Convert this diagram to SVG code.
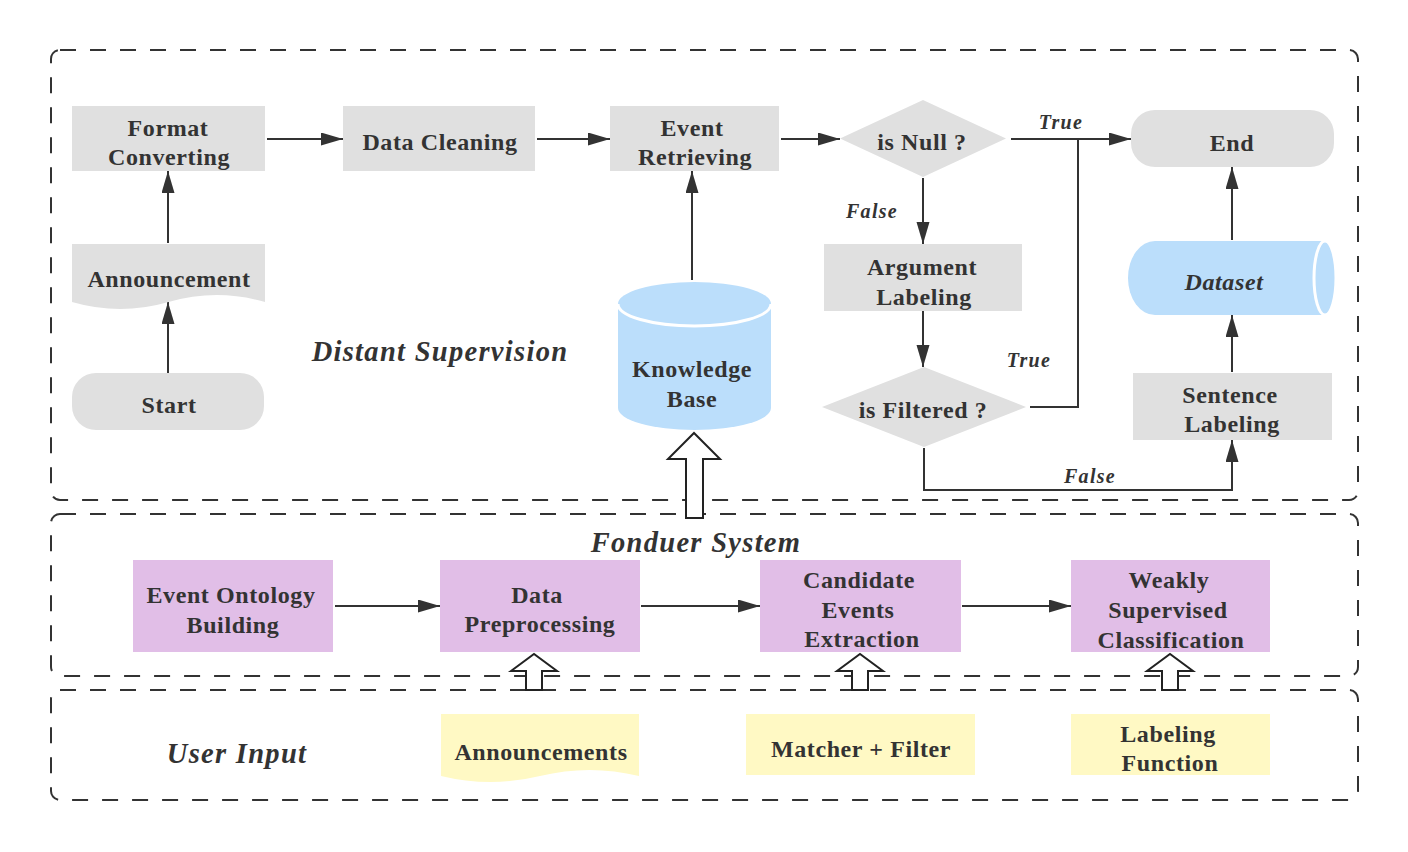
<svg xmlns="http://www.w3.org/2000/svg" width="1408" height="852" viewBox="0 0 1408 852">
<style>
.t{font-family:"Liberation Serif","Times New Roman",serif;font-weight:bold;font-size:24px;fill:#333;text-anchor:middle;letter-spacing:0.6px}
.it{font-style:italic}
.sec{font-family:"Liberation Serif","Times New Roman",serif;font-weight:bold;font-style:italic;font-size:28.5px;fill:#333;text-anchor:middle;letter-spacing:1.3px}
.lbl{font-family:"Liberation Serif","Times New Roman",serif;font-weight:bold;font-style:italic;font-size:20px;fill:#333;text-anchor:middle;letter-spacing:1.3px}
.grp{fill:none;stroke:#333;stroke-width:2;stroke-dasharray:16 14}
.gray{fill:#e0e0e0}
.blue{fill:#bbdefb}
.purple{fill:#e1bee7}
.yellow{fill:#fff9c4}
.c{fill:none;stroke:#333;stroke-width:2}
.ca{fill:none;stroke:#333;stroke-width:2;marker-end:url(#ah)}
.block{fill:#fff;stroke:#222;stroke-width:2}
</style>
<defs>
<marker id="ah" markerUnits="userSpaceOnUse" markerWidth="23" markerHeight="14" refX="22" refY="6.5" orient="auto">
<path d="M0,0 L22,6.5 L0,13 z" fill="#333"/>
</marker>
</defs>
<rect width="1408" height="852" fill="#fff"/>

<g id="containers">
<rect id="distant-supervision" class="grp" x="51" y="50" width="1307" height="450" rx="9"/>
<rect id="fonduer-system" class="grp" x="51" y="514" width="1307" height="162" rx="9"/>
<rect id="user-input" class="grp" x="51" y="690" width="1307" height="110" rx="9"/>
<text class="sec" x="440" y="361">Distant Supervision</text>
<text class="sec" x="696" y="552">Fonduer System</text>
<text class="sec" x="237" y="763">User Input</text>
</g>

<g id="connectors">
<path class="ca" d="M267,139 H343"/>
<path class="ca" d="M537,139 H610"/>
<path class="ca" d="M781,139 H840"/>
<path class="ca" d="M1011,139 H1131"/>
<path class="ca" d="M923,178 V244"/>
<path class="ca" d="M923,311 V367"/>
<path class="c" d="M1030,407 H1078 V139"/>
<path class="ca" d="M924,448 V490 H1232 V440"/>
<path class="ca" d="M1232,372 V315"/>
<path class="ca" d="M1232,240 V167"/>
<path class="ca" d="M168,373 V302"/>
<path class="ca" d="M168,243 V171"/>
<path class="ca" d="M692,280 V171"/>
<path class="ca" d="M335,606 H440"/>
<path class="ca" d="M641,606 H760"/>
<path class="ca" d="M962,606 H1071"/>
<text class="lbl" x="1061" y="129">True</text>
<text class="lbl" x="872" y="218">False</text>
<text class="lbl" x="1029" y="367">True</text>
<text class="lbl" x="1090" y="483">False</text>
<polygon class="block" points="686,518 703,518 703,459 720,459 694,433 668,459 686,459"/>
<polygon class="block" points="526,690 542,690 542,671 557,671 534,654 511,671 526,671"/>
<polygon class="block" points="852,690 868,690 868,671 883,671 860,654 837,671 852,671"/>
<polygon class="block" points="1162,690 1178,690 1178,671 1193,671 1170,654 1147,671 1162,671"/>
</g>

<g id="format-converting">
<rect class="gray" x="72" y="106" width="193" height="65"/>
<text class="t" x="168" y="136">Format</text>
<text class="t" x="169" y="165">Converting</text>
</g>
<g id="data-cleaning">
<rect class="gray" x="343" y="106" width="192" height="65"/>
<text class="t" x="440" y="150">Data Cleaning</text>
</g>
<g id="event-retrieving">
<rect class="gray" x="610" y="106" width="169" height="65"/>
<text class="t" x="692" y="136">Event</text>
<text class="t" x="695" y="165">Retrieving</text>
</g>
<g id="is-null">
<polygon class="gray" points="840,138.5 923,100 1006,138.5 923,177"/>
<text class="t" x="922" y="150">is Null ?</text>
</g>
<g id="end">
<rect class="gray" x="1131" y="110" width="203" height="57" rx="24"/>
<text class="t" x="1232" y="151">End</text>
</g>
<g id="announcement">
<path class="gray" d="M72,244 H265 V302 Q216.75,288 168.5,302 Q120.25,316 72,302 Z"/>
<text class="t" x="169" y="287">Announcement</text>
</g>
<g id="start">
<rect class="gray" x="72" y="373" width="192" height="57" rx="24"/>
<text class="t" x="169" y="413">Start</text>
</g>
<g id="knowledge-base">
<path class="blue" d="M618,304 A76.5,22 0 0 1 771,304 V408 A76.5,22 0 0 1 618,408 Z"/>
<path d="M618,304 A76.5,22 0 0 0 771,304" fill="none" stroke="#fff" stroke-width="3"/>
<text class="t" x="692" y="377">Knowledge</text>
<text class="t" x="692" y="407">Base</text>
</g>
<g id="argument-labeling">
<rect class="gray" x="824" y="244" width="198" height="67"/>
<text class="t" x="922" y="275">Argument</text>
<text class="t" x="924" y="305">Labeling</text>
</g>
<g id="is-filtered">
<polygon class="gray" points="822,407 924,367 1026,407 924,447"/>
<text class="t" x="923" y="418">is Filtered ?</text>
</g>
<g id="dataset">
<path class="blue" d="M1155,241 H1325 V315 H1155 A27,37 0 0 1 1155,241 Z"/>
<ellipse cx="1325" cy="278" rx="11" ry="37" fill="#bbdefb" stroke="#fff" stroke-width="3"/>
<text class="t it" x="1224" y="290">Dataset</text>
</g>
<g id="sentence-labeling">
<rect class="gray" x="1133" y="373" width="199" height="67"/>
<text class="t" x="1230" y="403">Sentence</text>
<text class="t" x="1232" y="432">Labeling</text>
</g>

<g id="event-ontology-building">
<rect class="purple" x="133" y="560" width="200" height="92"/>
<text class="t" x="231" y="603">Event Ontology</text>
<text class="t" x="233" y="633">Building</text>
</g>
<g id="data-preprocessing">
<rect class="purple" x="440" y="560" width="200" height="92"/>
<text class="t" x="537" y="603">Data</text>
<text class="t" x="540" y="632">Preprocessing</text>
</g>
<g id="candidate-events-extraction">
<rect class="purple" x="760" y="560" width="201" height="92"/>
<text class="t" x="859" y="588">Candidate</text>
<text class="t" x="858" y="618">Events</text>
<text class="t" x="862" y="647">Extraction</text>
</g>
<g id="weakly-supervised-classification">
<rect class="purple" x="1071" y="560" width="199" height="92"/>
<text class="t" x="1169" y="588">Weakly</text>
<text class="t" x="1168" y="618">Supervised</text>
<text class="t" x="1171" y="648">Classification</text>
</g>

<g id="announcements">
<path class="yellow" d="M441,714 H639 V776 Q589.5,764 540,776 Q490.5,788 441,776 Z"/>
<text class="t" x="541" y="760">Announcements</text>
</g>
<g id="matcher-filter">
<rect class="yellow" x="746" y="714" width="229" height="61"/>
<text class="t" x="861" y="757">Matcher + Filter</text>
</g>
<g id="labeling-function">
<rect class="yellow" x="1071" y="714" width="199" height="61"/>
<text class="t" x="1168" y="742">Labeling</text>
<text class="t" x="1170" y="771">Function</text>
</g>
</svg>
